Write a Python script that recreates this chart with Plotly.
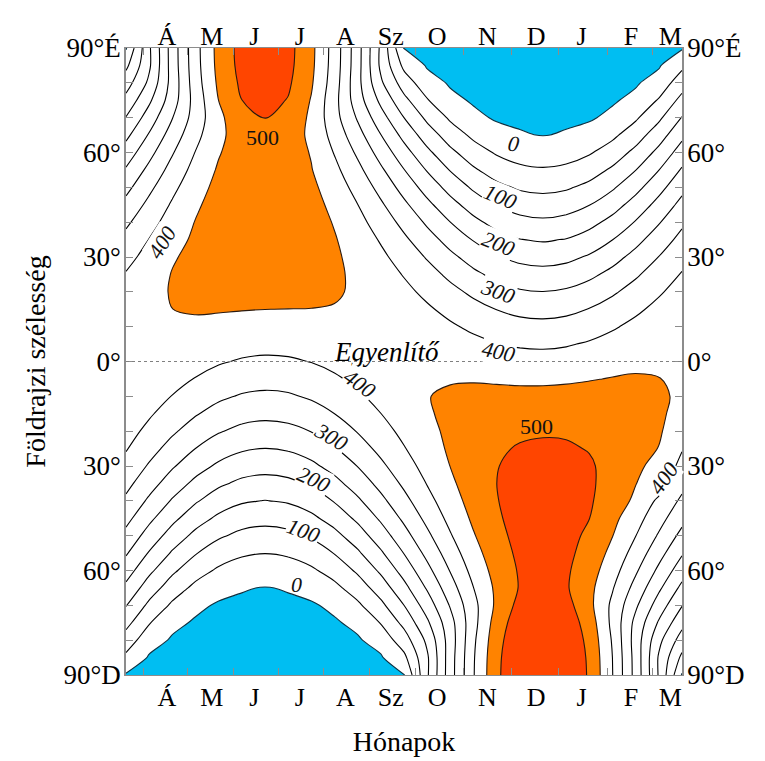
import plotly.graph_objects as go

# ---- grid: solar longitude from the March equinox (deg) x latitude (deg) ----
lon = [0, 15, 30, 45, 60, 75, 90, 105, 120, 135, 150, 165, 180,
       195, 210, 225, 240, 255, 270, 285, 300, 315, 330, 345, 360]
lat = list(range(-90, 95, 5))

# daily mean insolation (W/m2), each list runs from 90°S to 90°N
q000 = [0.0, 38.8, 77.3, 115.2, 152.2, 188.0, 222.5, 255.2, 286.0, 314.6, 340.8, 364.4, 385.3, 403.2, 418.1, 429.7, 438.1, 443.2, 444.9, 443.2, 438.1, 429.7, 418.1, 403.2, 385.3, 364.4, 340.8, 314.6, 286.0, 255.2, 222.5, 188.0, 152.2, 115.2, 77.3, 38.8, 0.0]
q015 = [0.0, 0.0, 19.5, 53.2, 89.1, 125.4, 161.1, 196.0, 229.5, 261.5, 291.5, 319.4, 344.9, 367.9, 388.2, 405.5, 419.7, 430.9, 438.7, 443.3, 444.5, 442.4, 437.0, 428.2, 416.3, 401.3, 383.2, 362.3, 338.8, 312.8, 284.7, 254.6, 223.2, 191.0, 160.0, 142.1, 142.7]
q030 = [0.0, 0.0, 0.0, 12.7, 41.6, 74.7, 109.3, 144.3, 178.9, 212.7, 245.2, 276.3, 305.4, 332.4, 357.1, 379.2, 398.6, 415.1, 428.6, 438.9, 446.0, 449.9, 453.0, 452.0, 446.0, 433.0, 420.9, 405.9, 388.2, 368.1, 346.0, 322.4, 298.4, 276.6, 269.1, 272.2, 273.3]
q045 = [0.0, 0.0, 0.0, 0.0, 11.7, 38.3, 69.6, 103.0, 137.3, 171.6, 205.4, 238.3, 269.8, 299.8, 327.8, 353.7, 377.2, 398.1, 416.3, 431.5, 443.8, 452.9, 458.9, 461.8, 461.5, 458.1, 451.7, 442.6, 430.9, 417.0, 401.6, 385.6, 371.8, 370.2, 377.5, 381.8, 383.3]
q060 = [0.0, 0.0, 0.0, 0.0, 0.0, 16.0, 42.8, 73.7, 106.7, 140.6, 174.8, 208.6, 241.6, 273.4, 303.7, 332.2, 358.6, 382.8, 404.4, 423.4, 439.6, 452.9, 463.2, 470.4, 474.7, 476.0, 474.5, 470.3, 463.8, 455.6, 446.5, 438.6, 438.1, 450.4, 459.2, 464.5, 466.3]
q075 = [0.0, 0.0, 0.0, 0.0, 0.0, 5.6, 27.9, 56.5, 88.2, 121.5, 155.5, 189.6, 223.3, 256.1, 287.6, 317.6, 345.8, 371.9, 395.7, 417.0, 435.6, 451.5, 464.6, 474.7, 481.9, 486.3, 488.0, 487.3, 484.4, 480.3, 475.9, 474.4, 486.1, 499.7, 509.4, 515.3, 517.3]
q090 = [0.0, 0.0, 0.0, 0.0, 0.0, 2.9, 23.3, 50.8, 81.9, 114.9, 148.8, 182.9, 216.7, 249.7, 281.6, 312.1, 340.8, 367.5, 392.0, 414.0, 433.5, 450.2, 464.2, 475.3, 483.6, 489.1, 491.9, 492.4, 490.9, 488.1, 485.6, 486.7, 501.6, 515.6, 525.7, 531.8, 533.8]
q105 = [0.0, 0.0, 0.0, 0.0, 0.0, 5.6, 27.8, 56.3, 87.8, 121.0, 154.9, 188.9, 222.4, 255.0, 286.5, 316.4, 344.4, 370.4, 394.1, 415.3, 433.9, 449.7, 462.7, 472.8, 480.0, 484.4, 486.1, 485.3, 482.5, 478.4, 474.0, 472.5, 484.2, 497.7, 507.4, 513.3, 515.2]
q120 = [0.0, 0.0, 0.0, 0.0, 0.0, 15.9, 42.4, 73.1, 105.9, 139.5, 173.4, 207.0, 239.7, 271.3, 301.4, 329.7, 355.9, 379.9, 401.3, 420.2, 436.2, 449.4, 459.6, 466.8, 471.1, 472.4, 470.8, 466.7, 460.3, 452.1, 447.0, 441.0, 441.0, 446.9, 455.7, 460.9, 462.7]
q135 = [0.0, 0.0, 0.0, 0.0, 11.5, 37.9, 68.9, 101.9, 135.8, 169.7, 203.2, 235.7, 266.9, 296.6, 324.3, 349.9, 373.2, 393.8, 411.8, 426.9, 439.0, 448.0, 454.0, 456.8, 456.5, 453.2, 446.9, 437.8, 426.2, 412.5, 397.2, 381.5, 367.8, 366.3, 373.4, 377.7, 379.2]
q150 = [0.0, 0.0, 0.0, 12.5, 41.1, 73.8, 107.9, 142.4, 176.6, 209.9, 242.0, 272.7, 301.4, 328.1, 352.4, 374.3, 393.4, 409.7, 423.0, 433.2, 440.2, 444.1, 444.7, 442.0, 436.2, 427.4, 415.4, 400.6, 383.2, 363.3, 341.5, 318.2, 294.5, 273.0, 265.6, 268.7, 269.7]
q165 = [0.0, 0.0, 19.2, 52.5, 87.8, 123.5, 158.8, 193.2, 226.2, 257.7, 287.3, 314.8, 340.0, 362.6, 382.6, 399.6, 413.7, 424.6, 432.4, 436.9, 438.1, 436.0, 430.7, 422.1, 410.3, 395.5, 377.7, 357.1, 333.9, 308.3, 280.6, 251.0, 220.0, 188.3, 157.7, 140.1, 140.6]
q180 = [0.0, 38.2, 76.1, 113.4, 149.9, 185.2, 219.2, 251.4, 281.7, 309.9, 335.8, 359.0, 379.6, 397.2, 411.9, 423.4, 431.6, 436.6, 438.3, 436.6, 431.6, 423.4, 411.9, 397.2, 379.6, 359.0, 335.8, 309.9, 281.7, 251.4, 219.2, 185.2, 149.9, 113.4, 76.1, 38.2, 0.0]
q195 = [143.0, 142.5, 160.4, 191.5, 223.7, 255.3, 285.4, 313.6, 339.6, 363.2, 384.1, 402.2, 417.3, 429.3, 438.0, 446.0, 449.0, 447.5, 439.8, 431.9, 420.8, 406.5, 389.1, 368.8, 345.8, 320.2, 292.2, 262.1, 230.1, 196.5, 161.5, 125.7, 89.3, 53.4, 19.5, 0.0, 0.0]
q210 = [278.6, 277.6, 274.4, 282.0, 304.3, 328.7, 352.8, 375.4, 395.9, 413.9, 429.1, 441.5, 450.7, 456.7, 459.4, 458.8, 454.8, 447.5, 437.0, 423.3, 406.4, 386.7, 364.1, 338.9, 311.4, 281.7, 250.1, 216.9, 182.4, 147.1, 111.5, 76.2, 42.4, 12.9, 0.0, 0.0, 0.0]
q225 = [397.1, 395.6, 391.1, 383.6, 385.3, 399.6, 416.1, 432.0, 446.4, 458.6, 468.1, 474.7, 478.2, 478.5, 475.5, 469.3, 459.8, 447.1, 431.3, 412.5, 390.8, 366.5, 339.7, 310.6, 279.6, 246.9, 212.8, 177.8, 142.2, 106.7, 72.1, 39.7, 12.1, 0.0, 0.0, 0.0, 0.0]
q240 = [489.6, 487.8, 482.2, 472.9, 460.1, 460.6, 468.9, 478.5, 487.1, 493.9, 498.2, 499.9, 498.5, 494.0, 486.4, 475.6, 461.6, 444.7, 424.7, 402.0, 376.6, 348.9, 318.9, 287.1, 253.7, 219.1, 183.5, 147.7, 112.0, 77.4, 44.9, 16.8, 0.0, 0.0, 0.0, 0.0, 0.0]
q255 = [548.8, 546.7, 540.4, 530.1, 515.7, 503.3, 504.9, 509.5, 513.9, 516.9, 517.7, 515.9, 511.2, 503.6, 492.8, 479.0, 462.1, 442.3, 419.8, 394.5, 366.8, 336.9, 305.1, 271.6, 236.9, 201.2, 165.0, 128.9, 93.5, 60.0, 29.6, 5.9, 0.0, 0.0, 0.0, 0.0, 0.0]
q270 = [569.8, 567.6, 561.2, 550.4, 535.5, 519.5, 518.3, 521.0, 523.9, 525.6, 525.1, 522.1, 516.2, 507.4, 495.5, 480.6, 462.7, 441.9, 418.4, 392.3, 363.7, 333.1, 300.6, 266.5, 231.3, 195.2, 158.8, 122.6, 87.4, 54.3, 24.8, 3.1, 0.0, 0.0, 0.0, 0.0, 0.0]
q285 = [550.8, 548.7, 542.5, 532.1, 517.6, 505.2, 506.8, 511.4, 515.8, 518.9, 519.7, 517.9, 513.2, 505.5, 494.7, 480.8, 463.9, 444.0, 421.3, 396.0, 368.2, 338.2, 306.3, 272.7, 237.7, 201.9, 165.6, 129.4, 93.9, 60.2, 29.7, 6.0, 0.0, 0.0, 0.0, 0.0, 0.0]
q300 = [493.2, 491.3, 485.7, 476.4, 463.5, 463.9, 472.4, 481.9, 490.6, 500.5, 506.0, 508.0, 506.0, 497.6, 490.0, 479.1, 465.0, 447.9, 427.8, 404.9, 379.4, 351.4, 321.3, 289.2, 255.5, 220.7, 184.9, 148.7, 112.8, 77.9, 45.2, 17.0, 0.0, 0.0, 0.0, 0.0, 0.0]
q315 = [401.2, 399.7, 395.1, 387.6, 389.2, 403.7, 420.4, 436.5, 451.1, 463.3, 472.9, 479.6, 483.1, 483.4, 480.4, 474.1, 464.5, 451.7, 435.8, 416.8, 394.9, 370.3, 343.2, 313.8, 282.5, 249.4, 215.0, 179.6, 143.7, 107.9, 72.9, 40.1, 12.2, 0.0, 0.0, 0.0, 0.0]
q330 = [282.2, 281.1, 277.9, 285.6, 308.2, 332.9, 357.3, 380.2, 400.9, 419.2, 442.0, 451.0, 456.4, 462.5, 465.3, 464.6, 460.6, 453.3, 442.6, 428.7, 411.6, 391.6, 368.8, 343.3, 315.4, 285.3, 253.2, 219.6, 184.8, 149.0, 112.9, 77.2, 43.0, 13.1, 0.0, 0.0, 0.0]
q345 = [145.1, 144.5, 162.7, 194.2, 226.9, 258.9, 289.5, 318.1, 344.5, 368.4, 389.6, 428.0, 440.0, 449.0, 456.0, 460.0, 461.0, 451.0, 441.0, 438.1, 426.8, 412.3, 394.7, 374.1, 350.8, 324.8, 296.4, 265.9, 233.4, 199.3, 163.8, 127.5, 90.6, 54.1, 19.8, 0.0, 0.0]
q360 = q000  # the same equinox one year later

columns = [q000, q015, q030, q045, q060, q075, q090, q105, q120, q135, q150, q165, q180,
           q195, q210, q225, q240, q255, q270, q285, q300, q315, q330, q345, q360]
assert all(len(c) == len(lat) for c in columns)
z = [list(row) for row in zip(*columns)]

# contour levels
night_level = 4          # edge of the polar night ("0")
line_start, line_end, line_step = 50, 400, 50
orange_level = 450
red_level = 500

# axis ticks
month_start = [11.2, 39.7, 69.6, 98.5, 128.1, 157.9, 187.6, 218.3, 249.5, 280.1, 311.8, 340.8]
month_mid = [26.5, 55.5, 83.0, 112.5, 142.0, 171.5, 201.5, 234.0, 265.5, 295.0, 327.0, 352.5]
month_labels = ["Á", "M", "J", "J", "A", "Sz", "O", "N", "D", "J", "F", "M"]
lat_ticks = [-90, -60, -30, 0, 30, 60, 90]
lat_labels = ["90°D", "60°", "30°", "0°", "30°", "60°", "90°É"]

# contour labels: text, lon, lat, angle, boxed, italic
contour_labels = [
    ("0", 250.6, 62.7, 8, False, True),
    ("100", 242.2, 47.5, 22, True, True),
    ("200", 240.9, 34.0, 22, True, True),
    ("300", 240.9, 20.2, 20, True, True),
    ("400", 240.9, 2.8, 12, True, True),
    ("400", 23.1, 34.3, -58, True, True),
    ("500", 88.7, 64.2, 0, False, False),
    ("400", 151.1, -6.3, 35, True, True),
    ("300", 132.5, -21.6, 30, True, True),
    ("200", 121.7, -34.0, 25, True, True),
    ("100", 114.8, -48.4, 20, True, True),
    ("0", 110.5, -63.9, 0, False, True),
    ("500", 265.9, -18.7, 0, False, False),
    ("400", 347.9, -33.5, -55, True, True),
]

FONT = "Liberation Serif"
BLUE = "#00BEF2"
ORANGE = "#FF8300"
RED = "#FF4500"
EDGE = "#2a1a10"
AXIS = "#8c8c8c"

# plotly's constraint contours shade the region where the constraint FAILS
fig = go.Figure()
fig.add_trace(go.Contour(   # polar night: z below night_level
    x=lon, y=lat, z=z, showscale=False, hoverinfo="skip",
    contours=dict(type="constraint", operation=">", value=night_level),
    fillcolor=BLUE, line=dict(color="#103040", width=1.1, smoothing=1.0)))
fig.add_trace(go.Contour(   # z above orange_level
    x=lon, y=lat, z=z, showscale=False, hoverinfo="skip",
    contours=dict(type="constraint", operation="<", value=orange_level),
    fillcolor=ORANGE, line=dict(color=EDGE, width=1.1, smoothing=1.0)))
fig.add_trace(go.Contour(   # z above red_level
    x=lon, y=lat, z=z, showscale=False, hoverinfo="skip",
    contours=dict(type="constraint", operation="<", value=red_level),
    fillcolor=RED, line=dict(color=EDGE, width=1.1, smoothing=1.0)))
fig.add_trace(go.Contour(
    x=lon, y=lat, z=z, showscale=False, hoverinfo="skip",
    contours=dict(coloring="none", start=line_start, end=line_end, size=line_step,
                  showlabels=False),
    line=dict(color="black", width=1.1, smoothing=1.0)))
# empty trace so the mirrored (top / right) axes get drawn
fig.add_trace(go.Scatter(x=[], y=[], xaxis="x2", yaxis="y2", showlegend=False,
                         hoverinfo="skip"))

tick_font = dict(family=FONT, size=26, color="black")
lat_font = dict(family=FONT, size=27, color="black")
title_font = dict(family=FONT, size=28, color="black")

xcommon = dict(range=[0, 360], tickmode="array", tickvals=month_mid, ticktext=month_labels,
               ticks="", showgrid=False, zeroline=False, showline=True, linecolor=AXIS,
               linewidth=1.2, tickfont=tick_font, automargin=False,
               minor=dict(tickmode="array", tickvals=month_start, ticks="inside",
                          ticklen=7, tickcolor=AXIS, tickwidth=1, showgrid=False))
ycommon = dict(range=[-90, 90], tickmode="array", tickvals=lat_ticks, ticktext=lat_labels,
               ticks="inside", ticklen=7, tickcolor=AXIS, tickwidth=1, showgrid=False,
               zeroline=False, showline=True, linecolor=AXIS, linewidth=1.5,
               tickfont=lat_font, automargin=False, ticklabelstandoff=-2,
               minor=dict(tick0=0, dtick=10, ticks="inside", ticklen=7, tickcolor=AXIS,
                          tickwidth=1, showgrid=False))

# the page body adds an 8 px margin, so the figure is 8 px smaller on each side
fig.update_layout(
    width=757, height=753, autosize=False,
    margin=dict(l=118, r=83, t=40, b=86, pad=0),
    paper_bgcolor="white", plot_bgcolor="white",
    showlegend=False,
    xaxis=dict(**xcommon, ticklabelstandoff=-1,
               title=dict(text="Hónapok", font=title_font, standoff=20)),
    xaxis2=dict(**xcommon, overlaying="x", side="top", matches="x", ticklabelstandoff=-8),
    yaxis=dict(**ycommon, title=dict(text="Földrajzi szélesség", font=title_font,
                                      standoff=10)),
    yaxis2=dict(**ycommon, overlaying="y", side="right", matches="y"),
)

# equator
fig.add_shape(type="line", xref="x", yref="y", x0=0, x1=360, y0=0, y1=0,
              line=dict(color="#808080", width=1, dash="dot"), layer="above")
fig.add_annotation(x=168.8, y=2.7, xref="x", yref="y", text="<i>Egyenlítő</i>",
                   showarrow=False, font=dict(family=FONT, size=27, color="black"))

for text, lx, ly, ang, boxed, italic in contour_labels:
    fig.add_annotation(
        x=lx, y=ly, xref="x", yref="y", showarrow=False,
        text=f"<i>{text}</i>" if italic else text, textangle=ang,
        font=dict(family=FONT, size=22, color="#111111"),
        bgcolor="white" if boxed else "rgba(0,0,0,0)", borderpad=0)

fig.write_html("out.html")
